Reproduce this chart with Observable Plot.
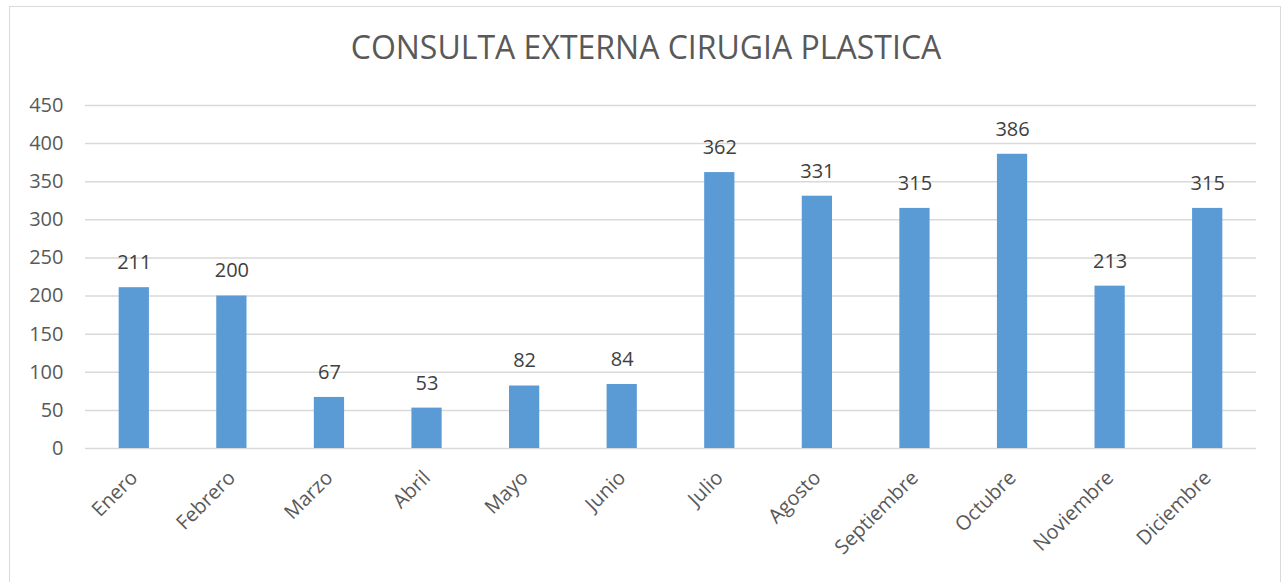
<!DOCTYPE html>
<html><head><meta charset="utf-8">
<script src="https://cdn.jsdelivr.net/npm/d3@7"></script>
<script src="https://cdn.jsdelivr.net/npm/@observablehq/plot@0.6"></script>
<style>
body{margin:0;background:#fff;overflow:hidden}
#chart{position:absolute;left:0;top:0}
#frame{position:absolute;left:9px;top:6px;width:1270px;height:620px;border:1.5px solid #d9d9d9;pointer-events:none}
</style>
</head><body>
<div id="chart"></div><div id="frame"></div>
<script>
const months=["Enero","Febrero","Marzo","Abril","Mayo","Junio","Julio","Agosto","Septiembre","Octubre","Noviembre","Diciembre"];
const values=[211,200,67,53,82,84,362,331,315,386,213,315];
const yTicks=[0,50,100,150,200,250,300,350,400,450];
const title="CONSULTA EXTERNA CIRUGIA PLASTICA";
const data=months.map((m,i)=>({month:m,value:values[i]}));

const plot=Plot.plot({
  width:1283,height:582,
  marginLeft:85,marginRight:27,marginTop:105,marginBottom:134,
  style:{fontFamily:"'Open Sans', sans-serif",fontSize:"20px",color:"#595959",background:"transparent"},
  x:{domain:months,paddingInner:0.69,paddingOuter:0.345,round:false,label:null},
  y:{domain:[0,450],label:null},
  marks:[
    Plot.gridY(yTicks,{stroke:"#d9d9d9",strokeOpacity:1,strokeWidth:1.5}),
    Plot.barY(data,{x:"month",y:"value",fill:"#5B9BD5"}),
    Plot.text(data,{x:"month",y:"value",text:d=>String(d.value),dy:-25,fill:"#404040",fontSize:20}),
    Plot.text([title],{frameAnchor:"top",lineAnchor:"middle",dy:-57,dx:-25,text:d=>d,fontSize:32,fill:"#595959"}),
    Plot.axisY(yTicks,{tickSize:0,tickPadding:22,label:null,fill:"#595959",fontSize:20}),
    Plot.axisX({tickSize:0,tickRotate:-45,tickPadding:26,label:null,fill:"#595959",fontSize:20})
  ]
});
document.getElementById("chart").appendChild(plot);
</script>
</body></html>
